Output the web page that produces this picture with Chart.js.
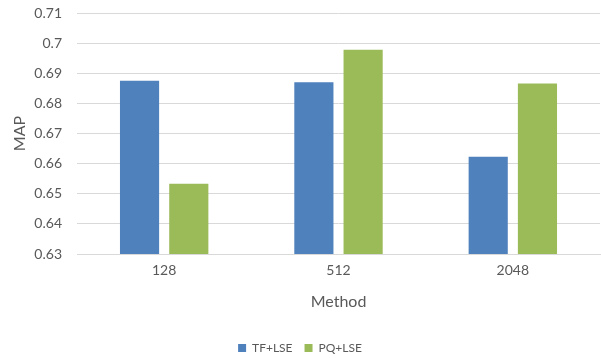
<!DOCTYPE html>
<html>
<head>
<meta charset="utf-8">
<script src="https://cdn.jsdelivr.net/npm/chart.js@4/dist/chart.umd.min.js"></script>
<style>
  html, body { margin: 0; padding: 0; background: #fff; }
  #wrap { width: 601px; height: 358px; }
</style>
</head>
<body>
<div id="wrap"><canvas id="c" width="601" height="358"></canvas></div>
<script>
// Mean average precision by code length
const categories = ['128', '512', '2048'];
const tfLse = [0.6875, 0.6870, 0.6623];
const pqLse = [0.6533, 0.6978, 0.6866];
const yTicks = [0.63, 0.64, 0.65, 0.66, 0.67, 0.68, 0.69, 0.7, 0.71];

const FONT = 'Lato, "Open Sans", sans-serif';
const TEXT = '#595959';

new Chart(document.getElementById('c'), {
  type: 'bar',
  data: {
    labels: categories,
    datasets: [
      { label: 'TF+LSE', data: tfLse, backgroundColor: '#4F81BD' },
      { label: 'PQ+LSE', data: pqLse, backgroundColor: '#9BBB59' }
    ]
  },
  options: {
    responsive: false,
    animation: false,
    devicePixelRatio: 1,
    layout: { padding: { top: 13, right: 1, left: 0, bottom: -6 } },
    datasets: { bar: { categoryPercentage: 0.565, barPercentage: 0.795 } },
    plugins: {
      legend: {
        position: 'bottom',
        labels: {
          font: { family: FONT, size: 12 },
          color: TEXT,
          usePointStyle: true,
          pointStyle: 'rect',
          boxWidth: 8,
          boxHeight: 8,
          padding: 12
        }
      },
      tooltip: { enabled: false }
    },
    scales: {
      x: {
        grid: { display: false },
        border: { color: '#d9d9d9' },
        ticks: { font: { family: FONT, size: 14 }, color: TEXT, padding: 0 },
        title: { display: true, text: 'Method', font: { family: FONT, size: 16 }, color: TEXT, padding: { top: 0, bottom: 19 } },
        afterFit: (s) => { s.height = 76; }
      },
      y: {
        min: 0.63,
        max: 0.71,
        afterBuildTicks: (s) => { s.ticks = yTicks.map(v => ({ value: v })); },
        grid: { color: '#d9d9d9', drawTicks: true, tickLength: 12, tickColor: 'rgba(0,0,0,0)' },
        border: { display: false },
        ticks: {
          font: { family: FONT, size: 14 },
          color: TEXT,
          padding: 3,
          callback: (v) => String(parseFloat(v.toFixed(2)))
        },
        title: { display: true, text: 'MAP', font: { family: FONT, size: 16 }, color: TEXT, padding: { top: 10, bottom: 8 } },
        afterFit: (s) => { s.width = 77; }
      }
    }
  }
});
</script>
</body>
</html>
